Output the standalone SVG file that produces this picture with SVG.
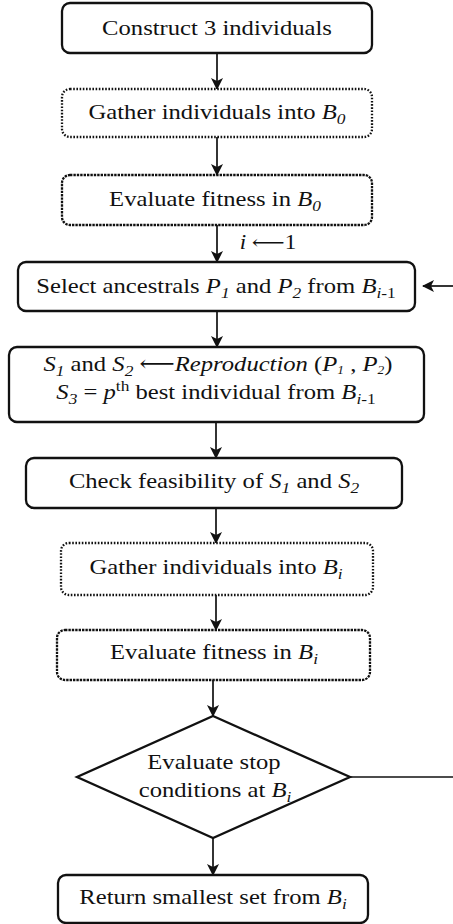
<svg xmlns="http://www.w3.org/2000/svg" width="453" height="924" viewBox="0 0 453 924">
<defs>
<style>
.box{fill:#fff;stroke:#111;stroke-width:2.3}
.dot{stroke-dasharray:1.6 1.6}
.dash{stroke-dasharray:2.4 1}
.t{font-family:'Liberation Serif','DejaVu Serif','Times New Roman',serif;font-size:22px;fill:#111;text-anchor:middle}
.it{font-style:italic}
.sub{font-size:15.5px}
.ln{stroke:#111;stroke-width:1.7;fill:none}
</style>
<marker id="ah" viewBox="0 0 12 12" refX="11" refY="6" markerWidth="12" markerHeight="12" markerUnits="userSpaceOnUse" orient="auto">
<path d="M0,0 L12,6 L0,12 L3,6 Z" fill="#111"/>
</marker>
</defs>
<g id="connectors">
<line class="ln" x1="217" y1="53" x2="217" y2="89" marker-end="url(#ah)"/>
<line class="ln" x1="217" y1="137" x2="217" y2="175" marker-end="url(#ah)"/>
<line class="ln" x1="217" y1="225" x2="217" y2="262" marker-end="url(#ah)"/>
<line class="ln" x1="217" y1="311" x2="217" y2="347" marker-end="url(#ah)"/>
<line class="ln" x1="216" y1="422" x2="216" y2="458" marker-end="url(#ah)"/>
<line class="ln" x1="216" y1="508" x2="216" y2="543" marker-end="url(#ah)"/>
<line class="ln" x1="216" y1="595" x2="216" y2="630" marker-end="url(#ah)"/>
<line class="ln" x1="213" y1="680" x2="213" y2="716" marker-end="url(#ah)"/>
<line class="ln" x1="213" y1="838" x2="213" y2="875" marker-end="url(#ah)"/>
<line class="ln" x1="350" y1="777" x2="453" y2="777"/>
<line class="ln" x1="453" y1="286" x2="423" y2="286" marker-end="url(#ah)"/>
<text class="t" transform="translate(268,0) scale(1.15,1)" x="0" y="249" style="font-size:20px"><tspan class="it">i</tspan> ⟵1</text>
</g>
<g id="n1">
<rect class="box" x="62" y="3" width="310" height="50" rx="8"/>
<text class="t" transform="translate(217,0) scale(1.12,1)" x="0" y="35.5">Construct 3 individuals</text>
</g>
<g id="n2">
<rect class="box dot" x="62" y="89" width="310" height="48" rx="8"/>
<text class="t" transform="translate(217,0) scale(1.12,1)" x="0" y="119">Gather individuals into <tspan class="it">B</tspan><tspan class="it sub" dy="5">0</tspan></text>
</g>
<g id="n3">
<rect class="box dash" x="62" y="175" width="310" height="50" rx="8"/>
<text class="t" transform="translate(215,0) scale(1.12,1)" x="0" y="206">Evaluate fitness in <tspan class="it">B</tspan><tspan class="it sub" dy="5">0</tspan></text>
</g>
<g id="n4">
<rect class="box" x="18" y="262" width="397" height="49" rx="8"/>
<text class="t" transform="translate(216,0) scale(1.12,1)" x="0" y="293">Select ancestrals <tspan class="it">P</tspan><tspan class="it sub" dy="5">1</tspan><tspan dy="-5"> and </tspan><tspan class="it">P</tspan><tspan class="it sub" dy="5">2</tspan><tspan dy="-5"> from </tspan><tspan class="it">B</tspan><tspan class="sub" dy="5"><tspan class="it">i</tspan>-1</tspan></text>
</g>
<g id="n5">
<rect class="box" x="9" y="347" width="415" height="75" rx="8"/>
<text class="t" transform="translate(218,0) scale(1.12,1)" x="0" y="371"><tspan class="it">S</tspan><tspan class="it sub" dy="5">1</tspan><tspan dy="-5"> and </tspan><tspan class="it">S</tspan><tspan class="it sub" dy="5">2</tspan><tspan dy="-5"> ⟵</tspan><tspan class="it">Reproduction</tspan> (<tspan class="it">P</tspan><tspan class="it" style="font-size:12px" dy="3">1</tspan><tspan dy="-3"> , </tspan><tspan class="it">P</tspan><tspan class="it" style="font-size:12px" dy="3">2</tspan><tspan dy="-3">)</tspan></text>
<text class="t" transform="translate(216,0) scale(1.12,1)" x="0" y="399"><tspan class="it">S</tspan><tspan class="it sub" dy="5">3</tspan><tspan dy="-5"> = </tspan><tspan class="it">p</tspan><tspan class="sub" dy="-8">th</tspan><tspan dy="8"> best individual from </tspan><tspan class="it">B</tspan><tspan class="sub" dy="5"><tspan class="it">i</tspan>-1</tspan></text>
</g>
<g id="n6">
<rect class="box" x="26" y="458" width="376" height="50" rx="8"/>
<text class="t" transform="translate(214,0) scale(1.12,1)" x="0" y="488">Check feasibility of <tspan class="it">S</tspan><tspan class="it sub" dy="5">1</tspan><tspan dy="-5"> and </tspan><tspan class="it">S</tspan><tspan class="it sub" dy="5">2</tspan></text>
</g>
<g id="n7">
<rect class="box dot" x="61" y="543" width="312" height="52" rx="8"/>
<text class="t" transform="translate(216,0) scale(1.12,1)" x="0" y="574">Gather individuals into <tspan class="it">B</tspan><tspan class="it sub" dy="5">i</tspan></text>
</g>
<g id="n8">
<rect class="box dash" x="57" y="630" width="313" height="50" rx="8"/>
<text class="t" transform="translate(214,0) scale(1.12,1)" x="0" y="659">Evaluate fitness in <tspan class="it">B</tspan><tspan class="it sub" dy="5">i</tspan></text>
</g>
<g id="n9">
<polygon class="box" points="213,716 350,777 213,838 77,777"/>
<text class="t" transform="translate(214,0) scale(1.12,1)" x="0" y="769">Evaluate stop</text>
<text class="t" transform="translate(215,0) scale(1.12,1)" x="0" y="797">conditions at <tspan class="it">B</tspan><tspan class="it sub" dy="5">i</tspan></text>
</g>
<g id="n10">
<rect class="box" x="58" y="875" width="310" height="48" rx="8"/>
<text class="t" transform="translate(213,0) scale(1.12,1)" x="0" y="904">Return smallest set from <tspan class="it">B</tspan><tspan class="it sub" dy="5">i</tspan></text>
</g>
</svg>
